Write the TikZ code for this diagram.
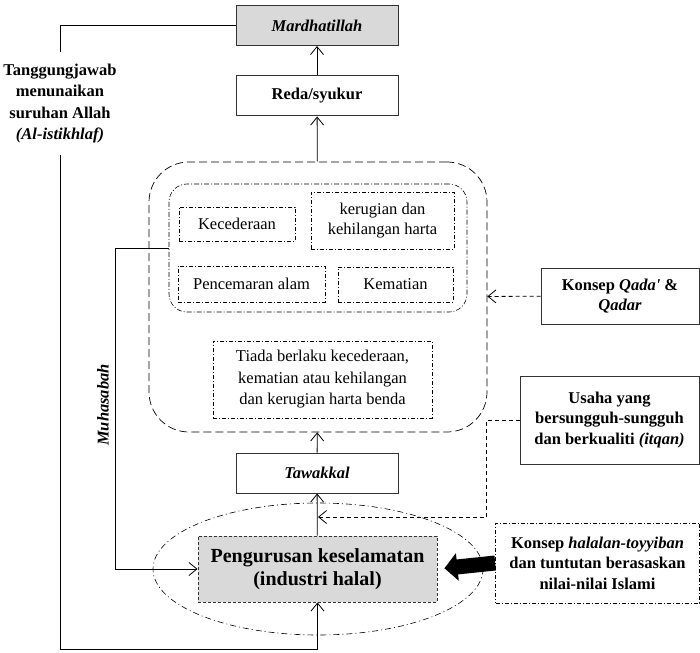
\documentclass[tikz,border=0pt]{standalone}
\usepackage{fontspec}
\setmainfont{Liberation Serif}
\usetikzlibrary{arrows.meta,shapes.geometric}
\tikzset{
  kotak/.style={draw=black!80,line width=1pt,minimum width=162pt,minimum height=40pt,inner sep=2pt,align=center,font=\bfseries\fontsize{16.5}{20.5}\selectfont},
  titik/.style={draw=black,line width=0.6pt,dash pattern=on 4pt off 2pt on 1pt off 2pt,inner sep=2pt,align=center,font=\fontsize{16.5}{20.5}\selectfont},
  panah/.style={-{Straight Barb[length=8pt,width=13pt]},line width=0.8pt},
  putus/.style={dash pattern=on 4pt off 3pt},
  teks/.style={inner sep=0pt,align=center,font=\bfseries\fontsize{16.5}{21.5}\selectfont}
}
\begin{document}
\begin{tikzpicture}[x=1pt,y=-1pt]
  \useasboundingbox (0,0) rectangle (700,652);

  \node[kotak,fill=black!15] (mardhatillah) at (317,25.5) {\textit{Mardhatillah}};
  \node[kotak] (reda) at (317,96) {Reda/syukur};

  \node[draw=black,line width=0.7pt,dash pattern=on 8pt off 4pt,rounded corners=40pt,
    minimum width=338pt,minimum height=270pt] (takdir) at (318,297) {};
  \node[draw=black,line width=0.6pt,dash pattern=on 5pt off 2pt on 1pt off 2pt,rounded corners=18pt,
    minimum width=298pt,minimum height=128pt] (musibah) at (318,248) {};
  \node[titik,minimum width=116pt,minimum height=34pt] (cedera) at (237,224) {Kecederaan};
  \node[titik,minimum width=143pt,minimum height=57pt] (rugi) at (382.5,220.5) {kerugian dan\\kehilangan harta};
  \node[titik,minimum width=147pt,minimum height=36pt] (cemar) at (251.5,284) {Pencemaran alam};
  \node[titik,minimum width=115pt,minimum height=35pt] (mati) at (395.5,284.5) {Kematian};
  \node[titik,minimum width=219pt,minimum height=77pt,font=\fontsize{16.5}{21.5}\selectfont] (tiada) at (322.5,379.5)
    {Tiada berlaku kecederaan,\\kematian atau kehilangan\\dan kerugian harta benda};

  \node[kotak] (tawakkal) at (317,473) {\textit{Tawakkal}};

  \node[ellipse,draw=black,line width=0.6pt,dash pattern=on 6pt off 3pt on 1pt off 3pt,inner sep=0pt,
    minimum width=330pt,minimum height=132pt] (lingkar) at (318,569) {};
  \node[draw=black!80,fill=black!15,line width=0.9pt,dash pattern=on 3pt off 2pt,align=center,
    minimum width=239pt,minimum height=66pt,font=\bfseries\fontsize{20}{23}\selectfont] (urus) at (317.5,569)
    {Pengurusan keselamatan\\(industri halal)};

  \node[kotak,minimum width=158pt,minimum height=56pt] (qada) at (620,296) {Konsep \textit{Qada\textquotesingle} \&\\\textit{Qadar}};
  \node[kotak,minimum width=179pt,minimum height=88pt] (usaha) at (609.5,420)
    {Usaha yang\\bersungguh-sungguh\\dan berkualiti \textit{(itqan)}};
  \node[titik,minimum width=204pt,minimum height=80pt,font=\bfseries\fontsize{16.5}{20.5}\selectfont] (halal) at (597.5,563)
    {Konsep \textit{halalan-toyyiban}\\dan tuntutan berasaskan\\nilai-nilai Islami};

  \node[teks,minimum height=103pt] (tanggung) at (60,103.5)
    {Tanggungjawab\\menunaikan\\suruhan Allah\\\textit{(Al-istikhlaf)}};
  \node[teks,rotate=90] (muhasabah) at (103,405) {\textit{Muhasabah}};

  \coordinate (bawah) at (60,649);
  \coordinate (masuk) at (318,517);

  \draw[panah] (reda) -- (mardhatillah);
  \draw[panah] (takdir) -- (reda);
  \draw[panah] (tawakkal) -- (takdir);
  \draw[panah] (urus) -- (tawakkal);
  \draw[panah,putus] (qada) -- (takdir);
  \draw[panah,putus] (usaha.west) -- ++(-33,0) |- (masuk);
  \draw[panah] (musibah.west) -- ++(-53,0) |- (urus.west);
  \draw[line width=0.8pt] (mardhatillah.west) -| (tanggung.north);
  \draw[panah] (tanggung.south) -- (bawah) -| (urus.south);
  \draw[line width=15pt,-{Triangle[length=13pt,width=27pt]},shorten >=7pt] (halal.west) -- (urus.east);
\end{tikzpicture}
\end{document}
